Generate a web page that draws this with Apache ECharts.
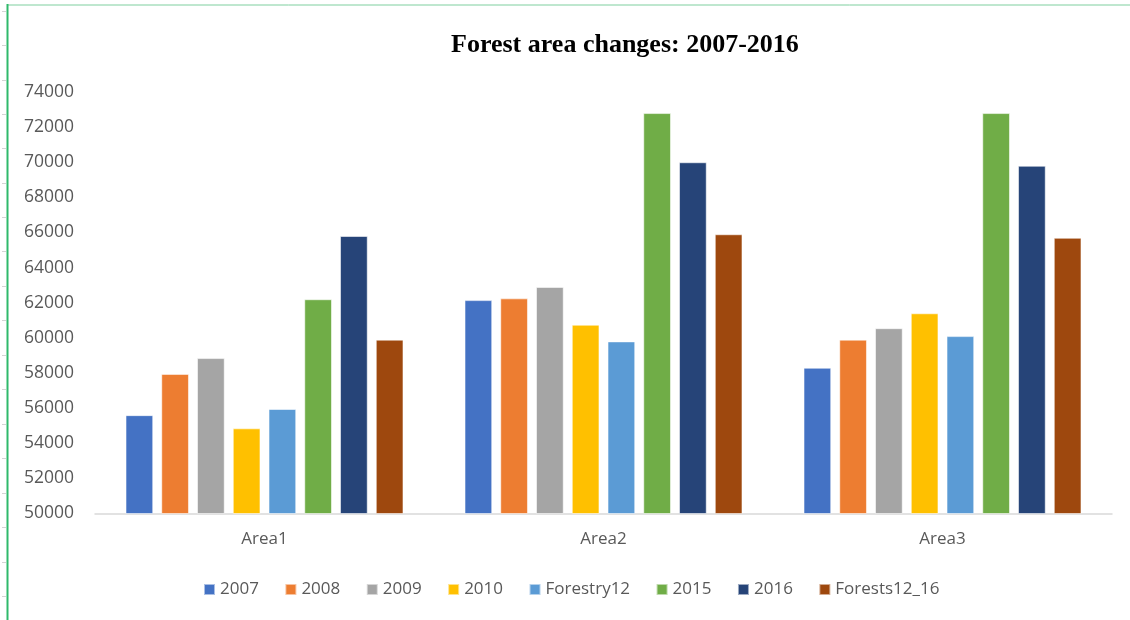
<!DOCTYPE html>
<html>
<head>
<meta charset="utf-8">
<script src="https://cdn.jsdelivr.net/npm/echarts@6/dist/echarts.min.js"></script>
<style>
  html, body { margin: 0; padding: 0; background: #ffffff; }
  #chart { width: 1130px; height: 620px; }
</style>
</head>
<body>
<div id="chart"></div>
<script>
const categories = ['Area1', 'Area2', 'Area3'];
const seriesNames = ['2007', '2008', '2009', '2010', 'Forestry12', '2015', '2016', 'Forests12_16'];
const values2007 = [55600, 62150, 58300];
const values2008 = [57950, 62250, 59900];
const values2009 = [58850, 62900, 60550];
const values2010 = [54850, 60750, 61400];
const valuesForestry12 = [55950, 59800, 60100];
const values2015 = [62200, 72800, 72800];
const values2016 = [65800, 70000, 69800];
const valuesForests12_16 = [59900, 65900, 65700];
const yMin = 50000, yMax = 74000, yStep = 2000;

const seriesValues = [values2007, values2008, values2009, values2010, valuesForestry12, values2015, values2016, valuesForests12_16];
const colors = ['#4472C4', '#ED7D31', '#A5A5A5', '#FFC000', '#5B9BD5', '#70AD47', '#264478', '#9E480E'];

const chart = echarts.init(document.getElementById('chart'), null, { renderer: 'canvas' });

const graphics = [
  { type: 'line', shape: { x1: 8, y1: 5, x2: 1130, y2: 5 }, style: { stroke: '#7fcf9f', lineWidth: 1 }, silent: true },
  { type: 'line', shape: { x1: 7.5, y1: 4, x2: 7.5, y2: 620 }, style: { stroke: '#2fb96b', lineWidth: 2 }, silent: true }
];
const rowLines = [11, 45, 80, 114, 148, 183, 217, 251, 286, 320, 355, 389, 424, 458, 493, 527, 562, 596];
rowLines.forEach(y => graphics.push({ type: 'line', shape: { x1: 2, y1: y + 0.5, x2: 6, y2: y + 0.5 }, style: { stroke: '#d4d4d4', lineWidth: 1 }, silent: true }));

chart.setOption({
  animation: false,
  backgroundColor: '#ffffff',
  color: colors,
  title: {
    text: 'Forest area changes: 2007-2016',
    left: 446,
    top: 27,
    textStyle: { fontFamily: 'Liberation Serif', fontWeight: 'bold', fontSize: 26, color: '#000000' }
  },
  legend: {
    data: seriesNames,
    left: 198,
    top: 576,
    itemWidth: 11,
    itemHeight: 11,
    itemGap: 25.5,
    icon: 'rect',
    textStyle: { fontFamily: 'Open Sans', fontSize: 17, color: '#595959' }
  },
  grid: { left: 95, right: 18, top: 92, bottom: 106.5, containLabel: false },
  xAxis: {
    type: 'category',
    data: categories,
    axisLine: { lineStyle: { color: '#d9d9d9', width: 1.5 } },
    axisTick: { show: false },
    axisLabel: { fontFamily: 'Open Sans', fontSize: 17, color: '#595959', margin: 17 }
  },
  yAxis: {
    type: 'value',
    min: yMin,
    max: yMax,
    interval: yStep,
    axisLine: { show: false },
    axisTick: { show: false },
    splitLine: { show: false },
    axisLabel: { fontFamily: 'Open Sans', fontSize: 17.5, color: '#595959', margin: 21, formatter: v => String(v) }
  },
  series: seriesNames.map((name, i) => ({
    name: name,
    type: 'bar',
    data: seriesValues[i],
    barGap: '29%',
    barCategoryGap: '18%',
    itemStyle: { color: colors[i], borderColor: 'rgba(255,255,255,0.55)', borderWidth: 1 }
  })),
  graphic: graphics
});
</script>
</body>
</html>
